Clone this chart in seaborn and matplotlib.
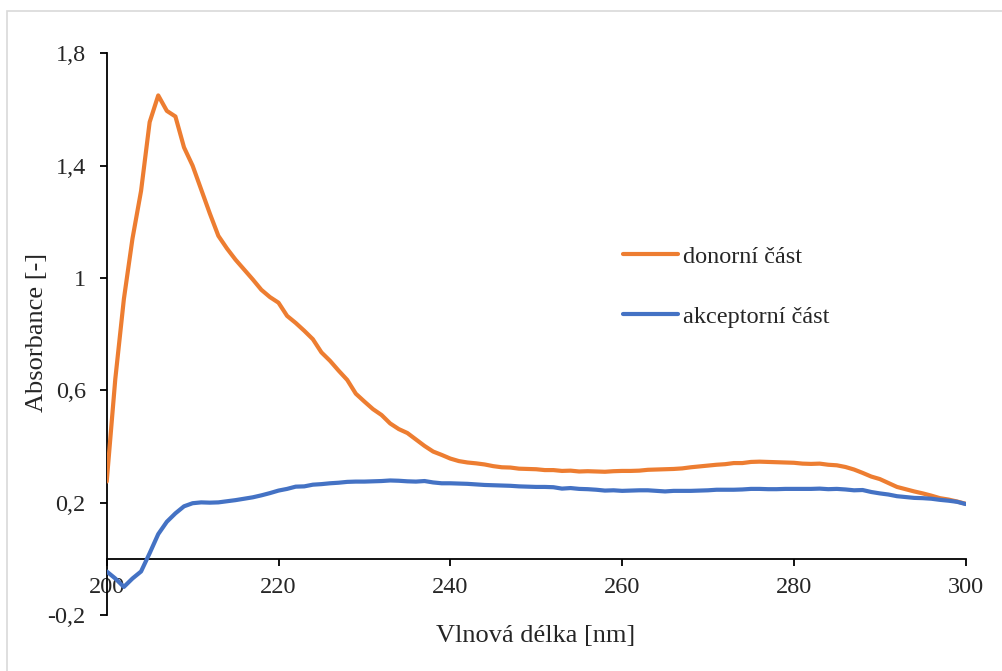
import numpy as np
import pandas as pd
import seaborn as sns
import matplotlib
matplotlib.use("Agg")
import matplotlib.pyplot as plt
from matplotlib.patches import Rectangle

# ---- data ----
wavelength = list(range(200, 301))

donor = [
    0.275, 0.640, 0.925, 1.140, 1.310, 1.555, 1.650, 1.595, 1.575, 1.465,  # 200-209
    1.400, 1.315, 1.230, 1.150, 1.105, 1.065, 1.030, 0.995, 0.958, 0.932,  # 210-219
    0.912, 0.865, 0.840, 0.812, 0.782, 0.735, 0.705, 0.670, 0.637, 0.588,  # 220-229
    0.560, 0.533, 0.512, 0.482, 0.462, 0.448, 0.425, 0.402, 0.382, 0.370,  # 230-239
    0.357, 0.348, 0.343, 0.340, 0.336, 0.330, 0.326, 0.325, 0.321, 0.320,  # 240-249
    0.319, 0.316, 0.316, 0.313, 0.314, 0.311, 0.312, 0.311, 0.310, 0.312,  # 250-259
    0.313, 0.313, 0.314, 0.317, 0.318, 0.319, 0.320, 0.322, 0.326, 0.329,  # 260-269
    0.332, 0.335, 0.337, 0.341, 0.341, 0.345, 0.346, 0.345, 0.344, 0.343,  # 270-279
    0.342, 0.339, 0.338, 0.339, 0.335, 0.333, 0.327, 0.318, 0.306, 0.293,  # 280-289
    0.284, 0.270, 0.256, 0.248, 0.240, 0.233, 0.225, 0.216, 0.211, 0.204,  # 290-299
    0.196,                                                                 # 300
]

acceptor = [
    -0.045, -0.070, -0.100, -0.070, -0.045, 0.020, 0.088, 0.132, 0.162, 0.187,  # 200-209
    0.198, 0.201, 0.200, 0.201, 0.205, 0.209, 0.214, 0.219, 0.226, 0.234,       # 210-219
    0.243, 0.249, 0.257, 0.258, 0.264, 0.266, 0.269, 0.271, 0.274, 0.275,       # 220-229
    0.275, 0.276, 0.277, 0.279, 0.278, 0.276, 0.275, 0.277, 0.272, 0.269,       # 230-239
    0.269, 0.268, 0.267, 0.265, 0.263, 0.262, 0.261, 0.260, 0.258, 0.257,       # 240-249
    0.256, 0.256, 0.255, 0.250, 0.252, 0.249, 0.248, 0.246, 0.243, 0.244,       # 250-259
    0.242, 0.243, 0.244, 0.244, 0.242, 0.240, 0.242, 0.242, 0.242, 0.243,       # 260-269
    0.244, 0.246, 0.246, 0.246, 0.247, 0.249, 0.249, 0.248, 0.248, 0.249,       # 270-279
    0.249, 0.249, 0.249, 0.250, 0.248, 0.249, 0.247, 0.244, 0.245, 0.238,       # 280-289
    0.233, 0.229, 0.223, 0.220, 0.217, 0.216, 0.214, 0.210, 0.207, 0.203,       # 290-299
    0.195,                                                                      # 300
]

series_names = ["donorní část", "akceptorní část"]
series_colors = ["#ED7D31", "#4472C4"]

x_ticks = [200, 220, 240, 260, 280, 300]
y_ticks = [-0.2, 0.2, 0.6, 1.0, 1.4, 1.8]
y_tick_labels = ["-0,2", "0,2", "0,6", "1", "1,4", "1,8"]

x_label = "Vlnová délka [nm]"
y_label = "Absorbance [-]"

# ---- build long-form table ----
df = pd.DataFrame({
    "wl": wavelength * 2,
    "abs": donor + acceptor,
    "serie": [series_names[0]] * len(wavelength) + [series_names[1]] * len(wavelength),
})

sns.set_theme(style="white")
plt.rcParams["font.family"] = ["Liberation Serif", "DejaVu Serif"]

W, H = 1003, 671
fig = plt.figure(figsize=(W / 100, H / 100), dpi=100)
ax = fig.add_axes([106.7 / W, 1 - 615 / H, (965.7 - 106.7) / W, (615 - 53.3) / H])
ax.set_facecolor("none")

lw = 3.0
sns.lineplot(data=df, x="wl", y="abs", hue="serie", hue_order=series_names,
             palette=series_colors, linewidth=lw, ax=ax, legend=True, zorder=3)

ax.set_xlim(200, 300)
ax.set_ylim(-0.2, 1.8)
ax.set_xticks(x_ticks)
ax.set_xticklabels([str(t) for t in x_ticks])
ax.set_yticks(y_ticks)
ax.set_yticklabels(y_tick_labels)

for s in ["top", "right"]:
    ax.spines[s].set_visible(False)
ax.spines["bottom"].set_position(("data", 0))
for s in ["left", "bottom"]:
    ax.spines[s].set_color("black")
    ax.spines[s].set_linewidth(1.3)
    ax.spines[s].set_zorder(2)

fs = 17.5
fs_title = 19
ax.tick_params(axis="y", which="major", direction="out", length=5, width=1.3,
               color="black", labelsize=fs, pad=10, left=True)
ax.tick_params(axis="x", which="major", direction="out", length=5, width=1.3,
               color="black", labelsize=fs, pad=8, bottom=True)

ax.set_xlabel(x_label, fontsize=fs_title)
ax.set_ylabel(y_label, fontsize=fs_title)
ax.xaxis.set_label_coords((536 - 106.7) / (965.7 - 106.7), (615 - 636) / (615 - 53.3))
ax.xaxis.label.set_va("center")
ax.yaxis.set_label_coords((37 - 106.7) / (965.7 - 106.7), (615 - 332.5) / (615 - 53.3))
ax.yaxis.label.set_va("center")

leg = ax.legend(frameon=False, fontsize=fs, loc="center left",
                bbox_to_anchor=(623 / W, 1 - 286.7 / H), bbox_transform=fig.transFigure,
                handlelength=2.25, handletextpad=0.2, labelspacing=1.55,
                borderpad=0, borderaxespad=0)
for line in leg.get_lines():
    line.set_linewidth(lw)

# light grey chart border
fig.patches.append(Rectangle((7 / W, -0.05), 1.1, 1 - 11 / H + 0.05,
                             transform=fig.transFigure, fill=False,
                             edgecolor="#D9D9D9", linewidth=1.2, zorder=0))

fig.savefig("out.png", dpi=100)
